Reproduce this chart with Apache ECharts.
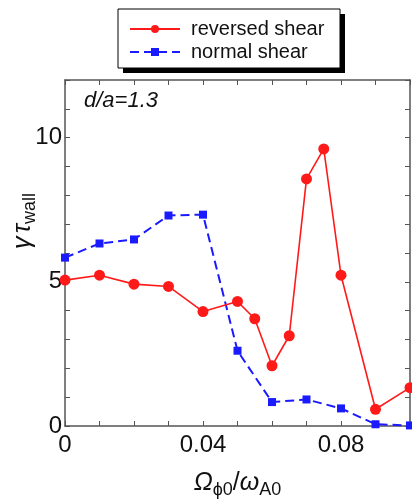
<!DOCTYPE html>
<html>
<head>
<meta charset="utf-8">
<script src="https://cdn.jsdelivr.net/npm/echarts@6/dist/echarts.min.js"></script>
<style>
  html, body { margin: 0; padding: 0; background: #fff; }
  #chart { width: 412px; height: 501px; }
</style>
</head>
<body>
<div id="chart"></div>
<script>
// Growth rate vs. toroidal rotation frequency, two q-profile cases
const seriesNames = ['reversed shear', 'normal shear'];
const xReversed = [0, 0.01, 0.02, 0.03, 0.04, 0.05, 0.055, 0.06, 0.065, 0.07, 0.075, 0.08, 0.09, 0.1];
const yReversed = [5.06, 5.23, 4.92, 4.84, 3.97, 4.32, 3.72, 2.09, 3.13, 8.57, 9.61, 5.23, 0.58, 1.33];
const xNormal = [0, 0.01, 0.02, 0.03, 0.04, 0.05, 0.06, 0.07, 0.08, 0.09, 0.1];
const yNormal = [5.84, 6.33, 6.47, 7.30, 7.33, 2.61, 0.83, 0.92, 0.61, 0.06, 0.02];
const xTickLabels = ['0', '0.04', '0.08'];
const yTickLabels = ['0', '5', '10'];
const annotation = 'd/a=1.3';

const FONT = '"Liberation Sans", Arial, Helvetica, sans-serif';
const AXIS_COLOR = '#555';

// legend frame with a hard drop shadow
const LEGEND_BOX = { x: 118, y: 9, width: 222, height: 59 };
const SHADOW_OFFSET = 5;

function pairs(xs, ys) { return xs.map((x, i) => [x, ys[i]]); }
function labelFor(list) {
  return v => {
    const hit = list.find(t => Math.abs(parseFloat(t) - v) < 1e-9);
    return hit === undefined ? '' : hit;
  };
}

const frameAxis = (extra) => Object.assign({
  type: 'value',
  axisLine: { show: true, onZero: false, lineStyle: { color: AXIS_COLOR, width: 1.5 } },
  axisTick: { show: true, inside: true, length: 5, lineStyle: { color: AXIS_COLOR, width: 1 } },
  splitLine: { show: false },
}, extra);

const chart = echarts.init(document.getElementById('chart'), null, { renderer: 'canvas' });
chart.setOption({
  animation: false,
  backgroundColor: '#fff',
  grid: { left: 65, right: 2, top: 80, bottom: 75, containLabel: false, outerBoundsMode: 'none' },
  legend: {
    orient: 'vertical',
    left: LEGEND_BOX.x,
    top: LEGEND_BOX.y,
    padding: [10, 15, 9, 11],
    itemGap: 3,
    itemWidth: 50,
    itemHeight: 10,
    z: 10,
    textStyle: { fontFamily: FONT, fontSize: 20, color: '#111', padding: [0, 0, 0, 6] },
    data: seriesNames
  },
  xAxis: [
    frameAxis({
      min: 0, max: 0.1, interval: 0.01, position: 'bottom',
      axisLabel: {
        show: true, margin: 7, fontFamily: FONT, fontSize: 24, color: '#111',
        formatter: labelFor(xTickLabels), showMaxLabel: true
      },
      name: '{i|Ω}{s|ϕ0}{n|/}{i|ω}{s|A0}',
      nameLocation: 'middle',
      nameGap: 41,
      nameMoveOverlap: false,
      nameTextStyle: {
        fontFamily: FONT, color: '#111',
        rich: {
          i: { fontFamily: FONT, fontSize: 25, fontStyle: 'italic', color: '#111' },
          n: { fontFamily: FONT, fontSize: 25, color: '#111' },
          s: { fontFamily: FONT, fontSize: 18, color: '#111', padding: [14, 0, 0, 0] }
        }
      }
    }),
    frameAxis({ min: 0, max: 0.1, interval: 0.01, position: 'top', axisLabel: { show: false } })
  ],
  yAxis: [
    frameAxis({
      min: 0, max: 12, interval: 1, position: 'left',
      axisLabel: {
        show: true, margin: 3, fontFamily: FONT, fontSize: 24, color: '#111',
        formatter: labelFor(yTickLabels)
      },
      name: '{g|γ} {t|τ}{s|wall}',
      nameLocation: 'middle',
      nameRotate: 90,
      nameGap: 26,
      nameMoveOverlap: false,
      nameTextStyle: {
        fontFamily: FONT, color: '#111',
        padding: [0, 0, 0, 64],
        rich: {
          g: { fontFamily: FONT, fontSize: 25, fontStyle: 'italic', color: '#111' },
          t: { fontFamily: FONT, fontSize: 25, fontStyle: 'italic', color: '#111' },
          s: { fontFamily: FONT, fontSize: 18, color: '#111', padding: [14, 0, 0, 0] }
        }
      }
    }),
    frameAxis({ min: 0, max: 12, interval: 1, position: 'right', axisLabel: { show: false } })
  ],
  graphic: [
    {
      type: 'rect',
      z: 5,
      shape: {
        x: LEGEND_BOX.x + SHADOW_OFFSET, y: LEGEND_BOX.y + SHADOW_OFFSET,
        width: LEGEND_BOX.width, height: LEGEND_BOX.height
      },
      style: { fill: '#000' }
    },
    {
      type: 'rect',
      z: 6,
      shape: { x: LEGEND_BOX.x, y: LEGEND_BOX.y, width: LEGEND_BOX.width, height: LEGEND_BOX.height },
      style: { fill: '#fff', stroke: '#000', lineWidth: 1 }
    },
    {
      type: 'text',
      left: 84,
      top: 90,
      style: {
        text: annotation,
        fontFamily: FONT,
        fontSize: 22,
        fontStyle: 'italic',
        fill: '#111'
      }
    }
  ],
  series: [
    {
      name: seriesNames[0],
      type: 'line',
      xAxisIndex: 0, yAxisIndex: 0,
      data: pairs(xReversed, yReversed),
      symbol: 'circle',
      symbolSize: 11,
      clip: false,
      z: 3,
      lineStyle: { color: '#ff1a1a', width: 1.6 },
      itemStyle: { color: '#ff1a1a' }
    },
    {
      name: seriesNames[1],
      type: 'line',
      xAxisIndex: 0, yAxisIndex: 0,
      data: pairs(xNormal, yNormal),
      symbol: 'rect',
      symbolSize: 8,
      clip: false,
      z: 2,
      lineStyle: { color: '#1a1aff', width: 2, type: [9, 5] },
      itemStyle: { color: '#1a1aff' }
    }
  ]
});
</script>
</body>
</html>
